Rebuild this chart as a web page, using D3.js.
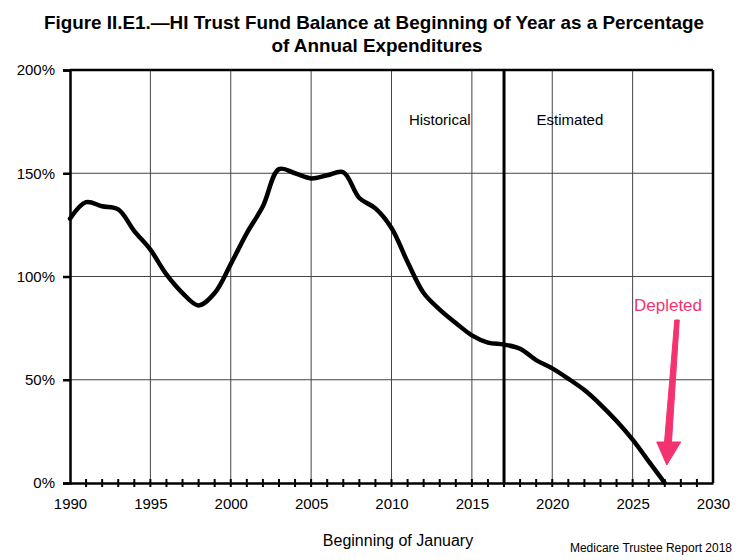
<!DOCTYPE html>
<html>
<head>
<meta charset="utf-8">
<script src="https://cdn.jsdelivr.net/npm/d3@7"></script>
<style>
  body { margin: 0; background: #fff; }
  text { font-family: Arial, "Liberation Sans", Helvetica, sans-serif; fill: #000; }
</style>
</head>
<body>
<script>
// values (percent of annual expenditures)
var years = [1990, 1991, 1992, 1993, 1994, 1995, 1996, 1997, 1998, 1999,
             2000, 2001, 2002, 2003, 2004, 2005, 2006, 2007, 2008, 2009,
             2010, 2011, 2012, 2013, 2014, 2015, 2016, 2017, 2018, 2019,
             2020, 2021, 2022, 2023, 2024, 2025, 2026, 2027];
var ratio = [128, 136, 134, 132.5, 122, 113, 101, 92, 86, 92,
             106, 121, 134, 152, 150, 147.5, 149, 150.5, 138, 133,
             123.5, 107, 92, 84, 77.5, 71.5, 68, 67, 65, 59.5,
             55.5, 50.5, 45, 38, 30, 21, 10.5, 0];
var xTicks = [1990, 1995, 2000, 2005, 2010, 2015, 2020, 2025, 2030];
var yTicks = [0, 50, 100, 150, 200];
var splitYear = 2017;
var depletedYear = 2027;

var width = 742, height = 560;

var svg = d3.select("body").append("svg")
  .attr("width", width)
  .attr("height", height);

var x = d3.scaleLinear().domain([1990, 2030]).range([70, 713]);
var y = d3.scaleLinear().domain([0, 200]).range([483, 70]);

// title
svg.append("text")
  .attr("x", 374).attr("y", 29)
  .attr("text-anchor", "middle")
  .style("font-family", "'Liberation Sans Narrow', 'Arial Narrow', Arial, sans-serif")
  .style("font-weight", "bold").style("font-size", "19px")
  .attr("textLength", 660).attr("lengthAdjust", "spacingAndGlyphs")
  .text("Figure II.E1.\u2014HI Trust Fund Balance at Beginning of Year as a Percentage");
svg.append("text")
  .attr("x", 377).attr("y", 52)
  .attr("text-anchor", "middle")
  .style("font-family", "'Liberation Sans Narrow', 'Arial Narrow', Arial, sans-serif")
  .style("font-weight", "bold").style("font-size", "19px")
  .attr("textLength", 211).attr("lengthAdjust", "spacingAndGlyphs")
  .text("of Annual Expenditures");

// grid
svg.append("g").selectAll("line").data(xTicks.slice(1, -1)).enter().append("line")
  .attr("x1", function(d){ return x(d); }).attr("x2", function(d){ return x(d); })
  .attr("y1", y(200)).attr("y2", y(0))
  .style("stroke", "#444").style("stroke-width", 1);
svg.append("g").selectAll("line").data([50, 100, 150]).enter().append("line")
  .attr("x1", x(1990)).attr("x2", x(2030))
  .attr("y1", function(d){ return y(d); }).attr("y2", function(d){ return y(d); })
  .style("stroke", "#444").style("stroke-width", 1);

// frame top / right
svg.append("line").attr("x1", x(1990)).attr("x2", x(2030)).attr("y1", y(200)).attr("y2", y(200))
  .style("stroke", "#000").style("stroke-width", 2.5);
svg.append("line").attr("x1", x(2030)).attr("x2", x(2030)).attr("y1", y(200)).attr("y2", y(0))
  .style("stroke", "#000").style("stroke-width", 2.5);

// historical / estimated divider
svg.append("line")
  .attr("x1", x(splitYear)).attr("x2", x(splitYear))
  .attr("y1", y(200)).attr("y2", y(0))
  .style("stroke", "#000").style("stroke-width", 3);

svg.append("text").attr("x", x(2013)).attr("y", 125).attr("text-anchor", "middle")
  .style("font-size", "15px").text("Historical");
svg.append("text").attr("x", x(2021.1)).attr("y", 125).attr("text-anchor", "middle")
  .style("font-size", "15px").text("Estimated");

// y axis
var yAxis = d3.axisLeft(y).tickValues(yTicks)
  .tickFormat(function(d){ return d + "%"; })
  .tickSize(7).tickPadding(8);
var gy = svg.append("g").attr("transform", "translate(" + x(1990) + ",0)").call(yAxis);
gy.select(".domain").style("stroke-width", 2.5);
gy.selectAll(".tick line").style("stroke-width", 2.5);
gy.selectAll(".tick text").style("font-size", "15px")
  .style("font-family", "Arial, 'Liberation Sans', sans-serif");

// x axis: labels every 5 years, crossing ticks every year
var xAxis = d3.axisBottom(x).tickValues(xTicks)
  .tickFormat(d3.format("d")).tickSize(0).tickPadding(15);
var gx = svg.append("g").attr("transform", "translate(0," + y(0) + ")").call(xAxis);
gx.select(".domain").style("stroke-width", 2.5);
gx.selectAll(".tick text").style("font-size", "15px")
  .style("font-family", "Arial, 'Liberation Sans', sans-serif");
gx.selectAll("line.minor").data(d3.range(1991, 2030)).enter().append("line")
  .attr("class", "minor")
  .attr("x1", function(d){ return x(d); }).attr("x2", function(d){ return x(d); })
  .attr("y1", -4).attr("y2", 4)
  .style("stroke", "#000").style("stroke-width", 2);

// trust fund ratio
var line = d3.line()
  .x(function(d, i){ return x(years[i]); })
  .y(function(d){ return y(d); })
  .curve(d3.curveCatmullRom.alpha(0.5));
svg.append("path")
  .datum(ratio)
  .attr("d", line)
  .style("fill", "none")
  .style("stroke", "#000")
  .style("stroke-width", 4.5)
  .style("stroke-linejoin", "round")
  .style("stroke-linecap", "round");

// depleted annotation
var pink = "#f2336f";
svg.append("text").attr("x", 668).attr("y", 311).attr("text-anchor", "middle")
  .style("font-size", "17px").style("fill", pink).text("Depleted");
var tipX = x(depletedYear) + 2, tipY = y(0) - 18;
svg.append("path")
  .attr("d", "M" + (tipX + 8) + "," + 320 + " L" + (tipX + 12.5) + "," + 320 +
             " L" + (tipX + 4.5) + "," + (tipY - 20) + " L" + (tipX - 2.5) + "," + (tipY - 20) + " Z")
  .style("fill", pink)
  .style("stroke", pink).style("stroke-width", 1).style("stroke-linejoin", "round");
svg.append("path")
  .attr("d", "M" + (tipX - 10) + "," + (tipY - 23) + " L" + (tipX + 14) + "," + (tipY - 23) +
             " L" + tipX + "," + tipY + " Z")
  .style("fill", pink)
  .style("stroke", pink).style("stroke-width", 1).style("stroke-linejoin", "round");

// axis title and source
svg.append("text").attr("x", 398).attr("y", 546).attr("text-anchor", "middle")
  .style("font-size", "16px").text("Beginning of January");
svg.append("text").attr("x", 732).attr("y", 552).attr("text-anchor", "end")
  .style("font-size", "12px").text("Medicare Trustee Report 2018");
</script>
</body>
</html>
